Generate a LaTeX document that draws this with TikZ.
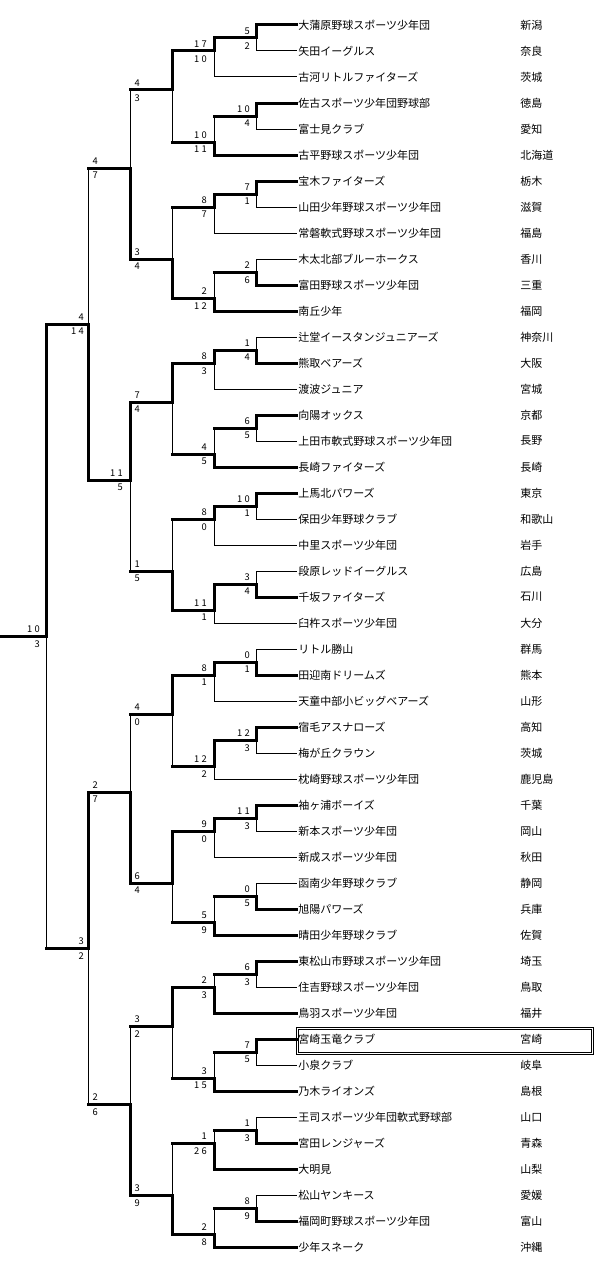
\documentclass[tikz,border=0pt]{standalone}
\usepackage{fontspec}
\setmainfont{Noto Sans CJK JP}
\newfontfamily\scorefont[LetterSpace=25]{Noto Sans CJK JP}
\usetikzlibrary{calc}

\tikzset{
  team/.style={anchor=west,inner sep=1.5pt,font=\fontsize{8.25}{10}\selectfont},
  pref/.style={anchor=west,inner sep=0pt,font=\fontsize{8.25}{10}\selectfont},
  score/.style={inner sep=0pt,font=\scorefont\fontsize{7}{8}\selectfont},
  upper/.style={line width=0.75pt+1.5pt*(1-#1)},
  lower/.style={line width=0.75pt+1.5pt*#1},
  won/.style={line width=2.25pt},
  highlight/.style={draw,double,line width=0.75pt,double distance=0.75pt,
    minimum width=221.6pt,minimum height=18.75pt,inner sep=0pt},
}

\begin{document}
\begin{tikzpicture}[x=0.75pt,y=-0.75pt,line cap=rect]
\useasboundingbox (0,0) rectangle (614,1288);

% highlighted team
\node[highlight] (hl) at (445.25,1040.5) {};

% teams
\foreach \name/\pref [count=\i from 0] in {
  大蒲原野球スポーツ少年団/新潟, 矢田イーグルス/奈良, 古河リトルファイターズ/茨城,
  佐古スポーツ少年団野球部/徳島, 富士見クラブ/愛知, 古平野球スポーツ少年団/北海道,
  宝木ファイターズ/栃木, 山田少年野球スポーツ少年団/滋賀, 常磐軟式野球スポーツ少年団/福島,
  木太北部ブルーホークス/香川, 富田野球スポーツ少年団/三重, 南丘少年/福岡,
  辻堂イースタンジュニアーズ/神奈川, 熊取ベアーズ/大阪, 渡波ジュニア/宮城,
  向陽オックス/京都, 上田市軟式野球スポーツ少年団/長野, 長崎ファイターズ/長崎,
  上馬北パワーズ/東京, 保田少年野球クラブ/和歌山, 中里スポーツ少年団/岩手,
  段原レッドイーグルス/広島, 千坂ファイターズ/石川, 臼杵スポーツ少年団/大分,
  リトル勝山/群馬, 田迎南ドリームズ/熊本, 天童中部小ビッグベアーズ/山形,
  宿毛アスナローズ/高知, 梅が丘クラウン/茨城, 枕崎野球スポーツ少年団/鹿児島,
  袖ヶ浦ボーイズ/千葉, 新本スポーツ少年団/岡山, 新成スポーツ少年団/秋田,
  函南少年野球クラブ/静岡, 旭陽パワーズ/兵庫, 晴田少年野球クラブ/佐賀,
  東松山市野球スポーツ少年団/埼玉, 住吉野球スポーツ少年団/鳥取, 鳥羽スポーツ少年団/福井,
  宮崎玉竜クラブ/宮崎, 小泉クラブ/岐阜, 乃木ライオンズ/島根,
  王司スポーツ少年団軟式野球部/山口, 宮田レンジャーズ/青森, 大明見/山梨,
  松山ヤンキース/愛媛, 福岡町野球スポーツ少年団/富山, 少年スネーク/沖縄}
{
  \node[team] (t\i) at (296,{25+26*\i}) {\name};
  \node[pref] (p\i) at (520,{25+26*\i}) {\pref};
}

% first round
\foreach \g/\u/\l/\w in {0/5/2/0, 1/10/4/0, 2/7/1/0, 3/2/6/1, 4/1/4/1, 5/6/5/0,
  6/10/1/0, 7/3/4/1, 8/0/1/1, 9/12/3/0, 10/11/3/0, 11/0/5/1, 12/6/3/0,
  13/7/5/0, 14/1/3/1, 15/8/9/1}{
  \pgfmathtruncatemacro\ta{3*\g}
  \pgfmathtruncatemacro\tb{3*\g+1}
  \coordinate (a\g) at (256,{38+78*\g});
  \draw[upper=\w] (t\ta.west) -| (a\g);
  \draw[lower=\w] (t\tb.west) -| (a\g);
  \node[score,anchor=south east] (a\g u) at ($(a\g)+(-6,-3)$) {\u};
  \node[score,anchor=north east] (a\g l) at ($(a\g)+(-6,4)$) {\l};
}

% second round
\foreach \g/\u/\l/\w/\k in {0/17/10/0/3, 1/10/11/1/10, 2/8/7/0/15, 3/2/12/1/22,
  4/8/3/0/27, 5/4/5/1/34, 6/8/0/0/39, 7/11/1/0/46, 8/8/1/0/51, 9/12/2/0/58,
  10/9/0/0/63, 11/5/9/1/70, 12/2/3/1/75, 13/3/15/1/82, 14/1/26/1/87, 15/2/8/1/94}{
  \pgfmathtruncatemacro\tc{3*\g+2}
  \coordinate (b\g) at (214,{12+13*\k});
  \draw[won] (a\g) -- (a\g -| b\g);
  \draw[upper=\w] (a\g -| b\g) -- (b\g);
  \draw[lower=\w] (t\tc.west) -| (b\g);
  \node[score,anchor=south east] (b\g u) at ($(b\g)+(-7,-3)$) {\u};
  \node[score,anchor=north east] (b\g l) at ($(b\g)+(-7,4)$) {\l};
}

% third round
\foreach \m/\u/\l/\w/\k in {0/4/3/0/6, 1/3/4/1/19, 2/7/4/0/30, 3/1/5/1/43,
  4/4/0/0/54, 5/6/4/0/67, 6/3/2/0/78, 7/3/9/1/91}{
  \pgfmathtruncatemacro\ga{2*\m}
  \pgfmathtruncatemacro\gb{2*\m+1}
  \coordinate (c\m) at (172,{12+13*\k});
  \draw[won] (b\ga) -- (b\ga -| c\m);
  \draw[won] (b\gb) -- (b\gb -| c\m);
  \draw[upper=\w] (b\ga -| c\m) -- (c\m);
  \draw[lower=\w] (b\gb -| c\m) -- (c\m);
  \node[score,anchor=south east] (c\m u) at ($(c\m)+(-32,-3)$) {\u};
  \node[score,anchor=north east] (c\m l) at ($(c\m)+(-32,4)$) {\l};
}

% fourth round
\foreach \q/\u/\l/\w/\k/\dx in {0/4/7/1/12/32, 1/11/5/0/36/7, 2/2/7/1/60/32, 3/2/6/1/84/32}{
  \pgfmathtruncatemacro\ma{2*\q}
  \pgfmathtruncatemacro\mb{2*\q+1}
  \coordinate (d\q) at (130,{12+13*\k});
  \draw[won] (c\ma) -- (c\ma -| d\q);
  \draw[won] (c\mb) -- (c\mb -| d\q);
  \draw[upper=\w] (c\ma -| d\q) -- (d\q);
  \draw[lower=\w] (c\mb -| d\q) -- (d\q);
  \node[score,anchor=south east] (d\q u) at ($(d\q)+(-\dx,-3)$) {\u};
  \node[score,anchor=north east] (d\q l) at ($(d\q)+(-\dx,4)$) {\l};
}

% semi finals
\foreach \s/\u/\l/\w/\k in {0/4/14/1/24, 1/3/2/0/72}{
  \pgfmathtruncatemacro\qa{2*\s}
  \pgfmathtruncatemacro\qb{2*\s+1}
  \coordinate (e\s) at (88,{12+13*\k});
  \draw[won] (d\qa) -- (d\qa -| e\s);
  \draw[won] (d\qb) -- (d\qb -| e\s);
  \draw[upper=\w] (d\qa -| e\s) -- (e\s);
  \draw[lower=\w] (d\qb -| e\s) -- (e\s);
  \node[score,anchor=south east] (e\s u) at ($(e\s)+(-4,-3)$) {\u};
  \node[score,anchor=north east] (e\s l) at ($(e\s)+(-4,4)$) {\l};
}

% final
\coordinate (f) at (46,636);
\coordinate (root) at (0,636);
\draw[won] (e0) -- (e0 -| f);
\draw[won] (e1) -- (e1 -| f);
\draw[upper=0] (e0 -| f) -- (f);
\draw[lower=0] (e1 -| f) -- (f);
\draw[won] (f) -- (root);
\node[score,anchor=south east] (fu) at ($(f)+(-6,-3)$) {10};
\node[score,anchor=north east] (fl) at ($(f)+(-6,4)$) {3};
\end{tikzpicture}
\end{document}
